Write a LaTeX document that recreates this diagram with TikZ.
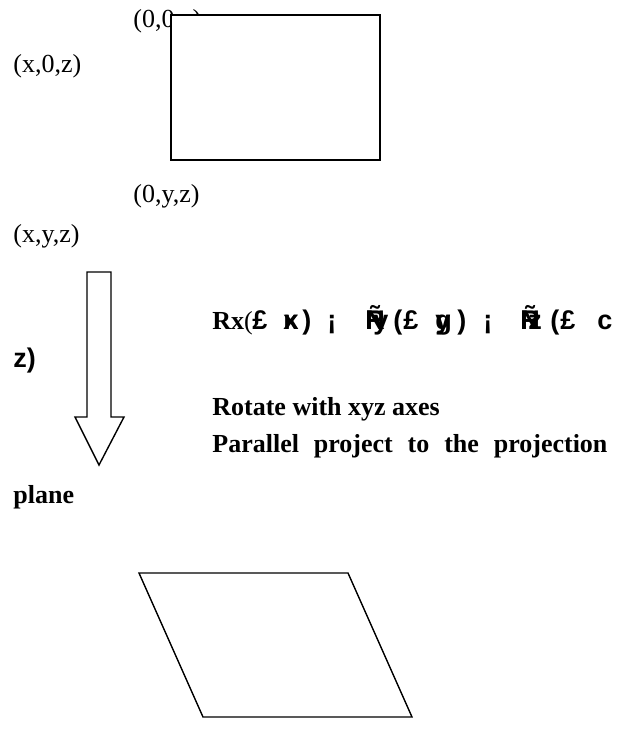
\documentclass[tikz,border=0pt]{standalone}
\usepackage{fontspec}
\setmainfont{Liberation Serif}
\setsansfont{Liberation Sans}
\usetikzlibrary{positioning}
\newcommand{\ovl}[2]{\rlap{#1}#2}

\begin{document}
\begin{tikzpicture}[x=0.5pt,y=-0.5pt,
  lbl/.style={anchor=base west,inner sep=0pt,font=\fontsize{13}{15}\selectfont},
  bld/.style={lbl,font=\fontsize{13}{15}\selectfont\bfseries},
  glyph/.style={lbl,font=\fontsize{13.5}{15}\selectfont\sffamily\bfseries},
  shp/.style={draw,line width=0.7pt,line join=miter}]
  \useasboundingbox (0,0) rectangle (636,729);
  % corner labels of the face
  \node[lbl] (c00z) at (133,27) {(0,0,z)};
  \draw[shp,fill=white] (171,15) rectangle (380,160);
  \node[lbl] (cx0z) at (13,72) {(x,0,z)};
  \node[lbl] (c0yz) at (133,202) {(0,y,z)};
  \node[lbl] (cxyz) at (13,242) {(x,y,z)};
  % block arrow
  \draw[shp] (87,272) -- (111,272) -- (111,417) -- (124,417) -- (99,465)
    -- (75,417) -- (87,417) -- cycle;
  % transformation text
  \node[lbl] (rx) at (212,329) {{\bfseries Rx}(};
  \foreach \px/\gl [count=\i] in {252/{£}, 283/{\ovl{x}{ĸ}}, 302/{)}, 327/{¡},
      365/{\rlap{R}\rlap{Ñ}\hspace{4pt}y}, 393/{(}, 403/{£}, 435/{\ovl{y}{g}},
      457/{)}, 483/{¡}, 520/{\rlap{R}\rlap{Ñ}\hspace{4pt}z}, 550/{(},
      560/{£}, 597/{c}}
    \node[glyph] (rot\i) at (\px,329) {\gl};
  \node[glyph] (rz) at (13,367) {z)};
  \node[bld] (rotate) at (212,415) {Rotate with xyz axes};
  \node[bld] (para) at (212,452) {\makebox[197.5pt][s]{Parallel project to the projection}};
  \node[bld] (plane) at (13,503) {plane};
  % projected face
  \draw[shp] (139,573) -- (348,573) -- (412,717) -- (203,717) -- cycle;
\end{tikzpicture}
\end{document}
